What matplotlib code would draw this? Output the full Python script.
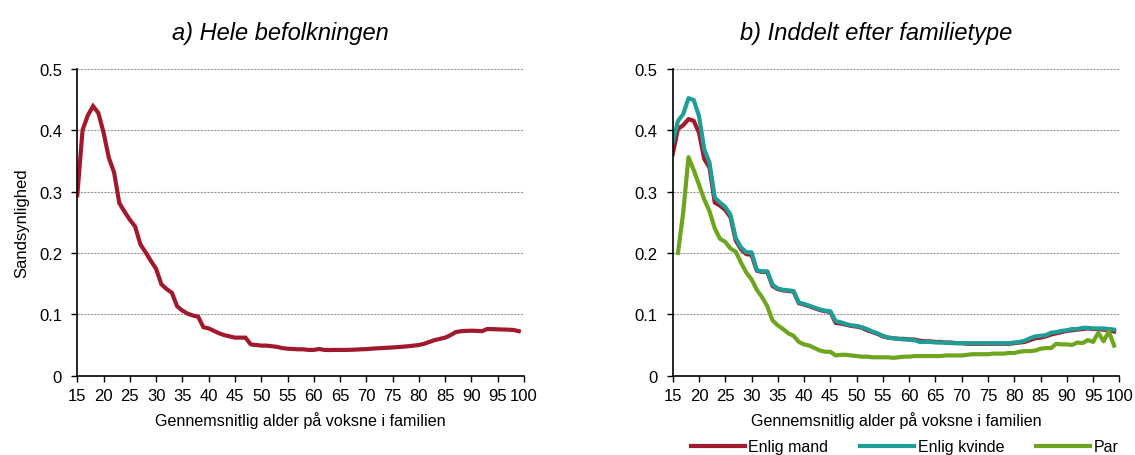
import numpy as np
import matplotlib
matplotlib.use("Agg")
import matplotlib.pyplot as plt
from matplotlib.transforms import offset_copy

plt.rcParams['font.family'] = ['Liberation Sans', 'DejaVu Sans']

# average adult age in the family, one point per year
ages = list(range(15, 100))

hele = [0.294, 0.400, 0.424, 0.439, 0.428, 0.396, 0.355, 0.331, 0.281, 0.267,
        0.254, 0.243, 0.214, 0.201, 0.187, 0.174, 0.149, 0.141, 0.135, 0.113,
        0.106, 0.101, 0.098, 0.096, 0.079, 0.077, 0.073, 0.069, 0.066, 0.064,
        0.062, 0.062, 0.062, 0.051, 0.050, 0.049, 0.049, 0.048, 0.047, 0.045,
        0.044, 0.0435, 0.043, 0.043, 0.042, 0.042, 0.0435, 0.042, 0.0418, 0.042,
        0.042, 0.042, 0.0422, 0.0425, 0.043, 0.0433, 0.044, 0.0446, 0.045, 0.0455,
        0.046, 0.0466, 0.0473, 0.048, 0.049, 0.050, 0.052, 0.055, 0.058, 0.060,
        0.062, 0.066, 0.071, 0.0725, 0.073, 0.0733, 0.073, 0.0725, 0.076, 0.0758,
        0.0755, 0.0752, 0.075, 0.0745, 0.0725]

enlig_mand = [0.361, 0.402, 0.408, 0.418, 0.415, 0.396, 0.353, 0.339, 0.282, 0.277,
              0.270, 0.258, 0.220, 0.206, 0.198, 0.197, 0.171, 0.169, 0.169, 0.146,
              0.141, 0.139, 0.138, 0.137, 0.118, 0.116, 0.113, 0.110, 0.107, 0.105,
              0.104, 0.086, 0.085, 0.083, 0.081, 0.080, 0.078, 0.074, 0.071, 0.068,
              0.064, 0.062, 0.061, 0.060, 0.060, 0.059, 0.059, 0.057, 0.056, 0.056,
              0.055, 0.055, 0.054, 0.054, 0.053, 0.053, 0.052, 0.052, 0.052, 0.052,
              0.052, 0.052, 0.052, 0.052, 0.052, 0.053, 0.054, 0.055, 0.058, 0.061,
              0.062, 0.064, 0.067, 0.069, 0.071, 0.073, 0.074, 0.075, 0.076, 0.077,
              0.076, 0.076, 0.075, 0.074, 0.072]

enlig_kvinde = [0.380, 0.415, 0.426, 0.452, 0.449, 0.423, 0.369, 0.347, 0.290, 0.282,
                0.275, 0.262, 0.224, 0.209, 0.201, 0.201, 0.172, 0.170, 0.170, 0.148,
                0.142, 0.140, 0.139, 0.138, 0.119, 0.117, 0.114, 0.111, 0.108, 0.106,
                0.105, 0.089, 0.087, 0.084, 0.082, 0.081, 0.079, 0.076, 0.072, 0.069,
                0.065, 0.062, 0.061, 0.060, 0.059, 0.059, 0.058, 0.055, 0.055, 0.055,
                0.054, 0.054, 0.054, 0.053, 0.053, 0.053, 0.053, 0.053, 0.053, 0.053,
                0.053, 0.053, 0.053, 0.053, 0.053, 0.054, 0.055, 0.057, 0.061, 0.064,
                0.065, 0.066, 0.070, 0.071, 0.073, 0.074, 0.076, 0.076, 0.078, 0.078,
                0.077, 0.077, 0.077, 0.076, 0.075]

# no couples at 15
par = [np.nan, 0.200, 0.266, 0.356, 0.335, 0.311, 0.287, 0.268, 0.240, 0.223,
       0.218, 0.207, 0.202, 0.184, 0.168, 0.157, 0.140, 0.128, 0.113, 0.090,
       0.082, 0.076, 0.069, 0.065, 0.055, 0.051, 0.049, 0.045, 0.041, 0.039,
       0.039, 0.033, 0.034, 0.034, 0.033, 0.032, 0.031, 0.031, 0.030, 0.030,
       0.030, 0.030, 0.029, 0.030, 0.031, 0.031, 0.032, 0.032, 0.032, 0.032,
       0.032, 0.032, 0.033, 0.033, 0.033, 0.033, 0.034, 0.035, 0.035, 0.035,
       0.035, 0.036, 0.036, 0.036, 0.037, 0.037, 0.039, 0.040, 0.040, 0.041,
       0.044, 0.045, 0.045, 0.052, 0.051, 0.051, 0.050, 0.054, 0.053, 0.058,
       0.055, 0.070, 0.056, 0.072, 0.049]

xticks = list(range(15, 101, 5))
yticks = [0, 0.1, 0.2, 0.3, 0.4, 0.5]
ytick_labels = ["0", "0.1", "0.2", "0.3", "0.4", "0.5"]

red = "#A0192D"
teal = "#1E9E96"
green = "#6EA51E"

fig = plt.figure(figsize=(11.35, 4.56), dpi=100)
ax1 = fig.add_axes([0.0681, 0.1739, 0.3936, 0.6732])
ax2 = fig.add_axes([0.5927, 0.1739, 0.3935, 0.6732])


def style_axis(ax, title):
    ax.set_xlim(15, 100)
    ax.set_ylim(0, 0.5)
    ax.set_xticks(xticks)
    ax.set_yticks(yticks)
    ax.set_yticklabels(ytick_labels)
    ax.tick_params(axis='both', labelsize=12, length=4, width=1, direction='out')
    ax.tick_params(axis='y', pad=7)
    ax.tick_params(axis='x', pad=5)
    for s in ['top', 'right']:
        ax.spines[s].set_visible(False)
    for s in ['left', 'bottom']:
        ax.spines[s].set_linewidth(1.2)
    ax.yaxis.grid(True, color='#999999', linestyle=(0, (2, 1)), linewidth=0.8)
    ax.set_axisbelow(True)
    ax.set_xlabel("Gennemsnitlig alder på voksne i familien", fontsize=11.6, labelpad=6)
    # title a little left of the plot centre, 30 px above the top
    tr = offset_copy(ax.transAxes, fig=fig, x=-20, y=30, units='dots')
    ax.text(0.5, 1.0, title, transform=tr, fontsize=17, style='italic',
            ha='center', va='baseline')


ax1.plot(ages, hele, color=red, linewidth=3, solid_joinstyle='miter')
style_axis(ax1, "a) Hele befolkningen")
ax1.set_ylabel("Sandsynlighed", fontsize=12, labelpad=7)

ax2.plot(ages, enlig_mand, color=red, linewidth=3, label="Enlig mand")
ax2.plot(ages, enlig_kvinde, color=teal, linewidth=3, label="Enlig kvinde")
ax2.plot(ages, par, color=green, linewidth=3, label="Par")
style_axis(ax2, "b) Inddelt efter familietype")

handles, labels = ax2.get_legend_handles_labels()
fig.legend(handles, labels, loc='center', bbox_to_anchor=(0.797, 0.018), ncol=3,
           frameon=False, fontsize=11.5, handlelength=3.4, handletextpad=0.2,
           columnspacing=2.0)

fig.savefig("out.png", dpi=100)
